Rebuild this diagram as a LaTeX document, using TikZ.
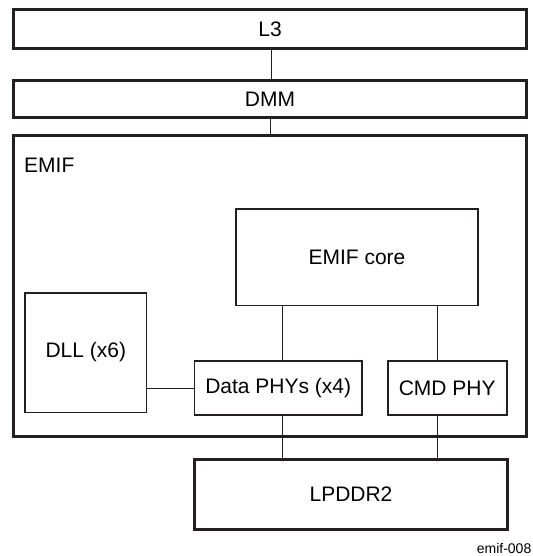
\documentclass[tikz,border=0pt]{standalone}
\usepackage{fontspec}
\setmainfont{Liberation Sans}
\definecolor{ink}{RGB}{35,31,32}

\begin{document}
\begin{tikzpicture}[x=1pt,y=-1pt,
  thickbox/.style={draw=ink,line width=3pt,inner sep=0pt,outer sep=0pt},
  thinbox/.style={draw=ink,line width=1.6pt,inner sep=0pt,outer sep=0pt},
  link/.style={draw=ink,line width=0.8pt},
  font=\fontsize{21}{25}\selectfont]

\useasboundingbox (0,0) rectangle (532,556);

\node[thickbox,minimum width=513pt,minimum height=39pt] (l3) at (270,29) {L3};
\node[thickbox,minimum width=513pt,minimum height=37.5pt] (dmm) at (270,99.25) {DMM};
\node[thickbox,minimum width=513pt,minimum height=301pt] (emif) at (270,286) {};
\node[anchor=west,inner sep=0pt] (emiflabel) at (24,165) {EMIF};

\node[thinbox,minimum width=242pt,minimum height=96.7pt] (core) at (357,257.3) {EMIF core};
\node[thinbox,minimum width=121.7pt,minimum height=119.6pt] (dll) at (85.8,352.5) {DLL (x6)};
\node[thinbox,minimum width=167.7pt,minimum height=54pt] (data) at (278.2,388) {Data PHYs (x4)};
\node[thinbox,minimum width=119pt,minimum height=54pt] (cmd) at (447.2,388) {CMD PHY};

\node[thickbox,minimum width=313pt,minimum height=70pt] (lpddr) at (351,494.5) {LPDDR2};

\node[anchor=base east,inner sep=0pt,font=\fontsize{14}{16}\selectfont] (fig) at (531.5,553) {emif-008};

% connections
\draw[link] ([xshift=1pt]l3.south) -- ([xshift=1pt]dmm.north);
\draw[link] (dmm.south) -- (emif.north);
\draw[link] ([xshift=4.5pt]data.north) -- ([xshift=4.5pt]data.north |- core.south);
\draw[link] ([xshift=-9.5pt]cmd.north) -- ([xshift=-9.5pt]cmd.north |- core.south);
\draw[link] (dll.east |- data.west) -- (data.west);
\draw[link] ([xshift=4.5pt]data.south) -- ([xshift=4.5pt]data.south |- lpddr.north);
\draw[link] ([xshift=-9.5pt]cmd.south) -- ([xshift=-9.5pt]cmd.south |- lpddr.north);

\end{tikzpicture}
\end{document}
